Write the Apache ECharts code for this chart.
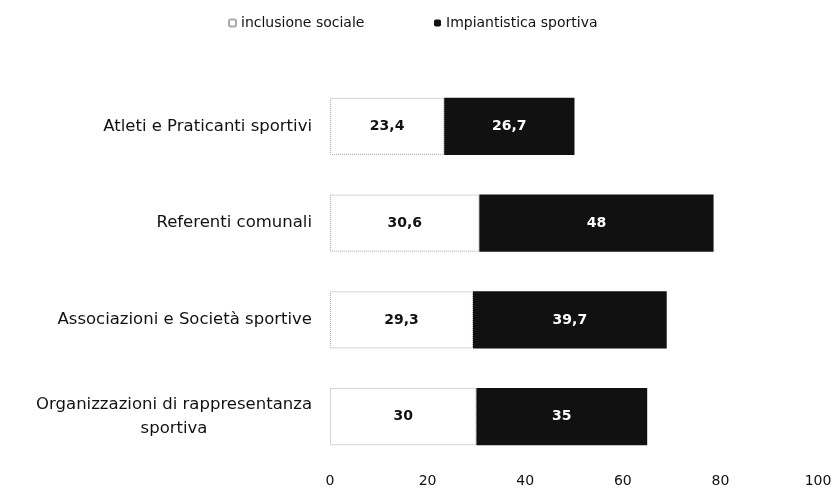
<!DOCTYPE html>
<html><head><meta charset="UTF-8">
<title>Inclusione sociale / Impiantistica sportiva</title>
<script src="https://cdn.jsdelivr.net/npm/echarts@6/dist/echarts.min.js"></script>
<style>
  *{ margin:0; padding:0; }
  html,body{ width:100%; height:100%; background:#fff; }
  #chart{ width:836px; height:500px; }
</style>
</head>
<body>
<div id="chart"></div>
<script>
// categorie dall'alto verso il basso
var categorie = ['Atleti e Praticanti sportivi', 'Referenti comunali', 'Associazioni e Società sportive', 'Organizzazioni di rappresentanza\nsportiva'];
var inclusione = [23.4, 30.6, 29.3, 30];
var impianti = [26.7, 48, 39.7, 35];
var tickAsse = [0, 20, 40, 60, 80, 100];

var font = '"DejaVu Sans", sans-serif';
var sizeCat = 16.5;

function virgola(p){ return String(p.value).replace('.', ','); }

// larghezza della prima riga, per centrare la seconda sotto di essa
var ctx = document.createElement('canvas').getContext('2d');
ctx.font = sizeCat + 'px ' + font;
function etichetta(v){
    var righe = v.split('\n');
    if (righe.length < 2) return v;
    var w = Math.ceil(ctx.measureText(righe[0]).width);
    return righe[0] + '\n{c' + w + '|' + righe[1] + '}';
}
var richCat = {};
categorie.forEach(function(v){
    var righe = v.split('\n');
    if (righe.length > 1) {
        var w = Math.ceil(ctx.measureText(righe[0]).width);
        richCat['c' + w] = { width: w, align: 'center', fontFamily: font, fontSize: sizeCat, color: '#111', lineHeight: 24 };
    }
});

var legendaBase = {
    top: 11,
    itemWidth: 7,
    itemHeight: 7,
    textStyle: { fontFamily: font, fontSize: 14, color: '#111' }
};

var chart = echarts.init(document.getElementById('chart'));
chart.setOption({
    animation: false,
    legend: [
        Object.assign({ left: 223, data: ['inclusione sociale'] }, legendaBase),
        Object.assign({ left: 429, data: ['Impiantistica sportiva'] }, legendaBase)
    ],
    grid: { left: 330, right: 18, top: 78, bottom: 35 },
    xAxis: {
        type: 'value',
        min: tickAsse[0], max: tickAsse[tickAsse.length - 1], interval: 20,
        axisLine: { show: false }, axisTick: { show: false }, splitLine: { show: false },
        axisLabel: { fontFamily: font, fontSize: 14, color: '#111', margin: 9 }
    },
    yAxis: {
        type: 'category',
        inverse: true,
        data: categorie,
        axisLine: { show: false }, axisTick: { show: false },
        axisLabel: { fontFamily: font, fontSize: sizeCat, color: '#111', margin: 18, lineHeight: 24, formatter: etichetta, rich: richCat }
    },
    series: [
        {
            name: 'inclusione sociale', type: 'bar', stack: 'tot',
            barCategoryGap: '41%',
            data: inclusione,
            itemStyle: { color: '#fff', borderColor: '#aaa', borderWidth: 1, borderType: 'dotted' },
            label: { show: true, position: 'inside', formatter: virgola, color: '#111', fontWeight: 'bold', fontSize: 14, fontFamily: font }
        },
        {
            name: 'Impiantistica sportiva', type: 'bar', stack: 'tot',
            data: impianti,
            itemStyle: { color: '#111' },
            label: { show: true, position: 'inside', formatter: virgola, color: '#fff', fontWeight: 'bold', fontSize: 14, fontFamily: font }
        }
    ]
});
</script>
</body></html>
